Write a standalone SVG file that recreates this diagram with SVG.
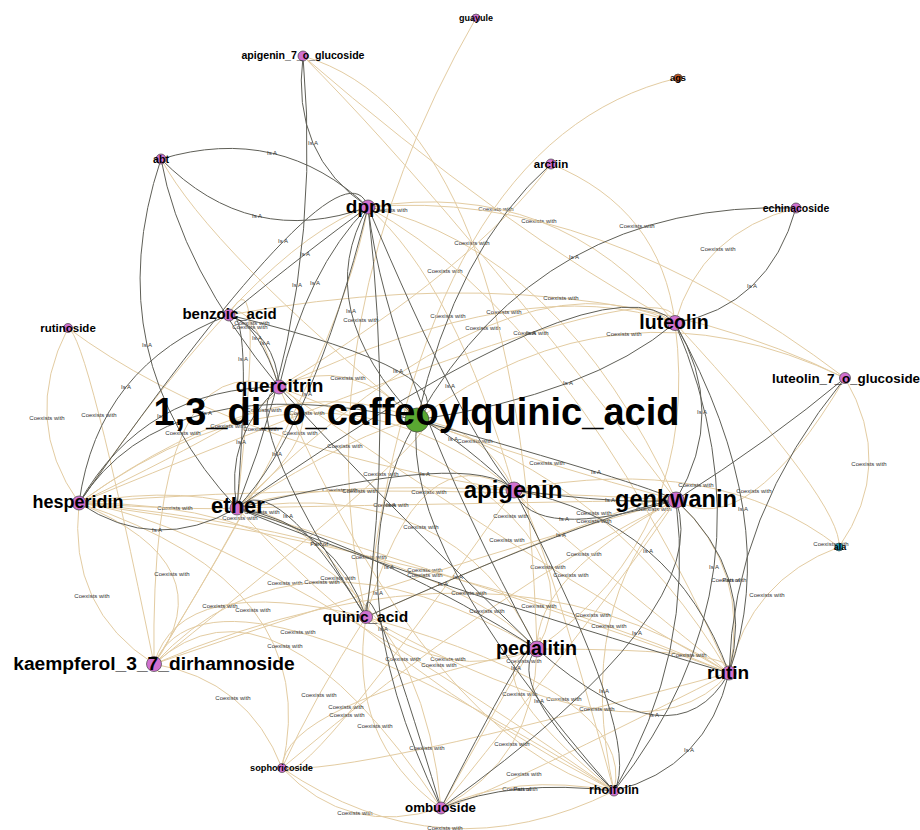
<svg xmlns="http://www.w3.org/2000/svg" width="920" height="830" viewBox="0 0 920 830">
<style>
.c{fill:none;stroke:#e3cca2;stroke-width:1}
.d{fill:none;stroke:#5f5f57;stroke-width:1}
.el{font-family:"Liberation Sans",Arial,sans-serif;font-size:6px;fill:#333;text-anchor:middle;dominant-baseline:central}
.n circle{fill:#d070d0;stroke:#444;stroke-width:0.7}
.n text{font-family:"Liberation Sans",Arial,sans-serif;font-weight:bold;fill:#000;text-anchor:middle}
</style>
<rect width="920" height="830" fill="#fff"/>
<g id="connectors">
<!-- coexists with -->
<g><path class="c" d="M476 18 Q301 322.5 366 617"/><text class="el" x="361" y="320">Coexists with</text></g>
<g><path class="c" d="M303 56 Q454.5 208 676 500"/></g>
<g><path class="c" d="M303 56 Q503 228.5 675 323"/><text class="el" x="496" y="209">Coexists with</text></g>
<g><path class="c" d="M368 207 Q556.5 177 675 323"/><text class="el" x="539" y="221">Coexists with</text></g>
<g><path class="c" d="M551 164 Q661 208.5 675 323"/><text class="el" x="637" y="226">Coexists with</text></g>
<g><path class="c" d="M796 208 Q700.5 232.5 675 323"/><text class="el" x="718" y="249">Coexists with</text></g>
<g><path class="c" d="M229 315 Q585 249.5 845 378"/><text class="el" x="561" y="298">Coexists with</text></g>
<g><path class="c" d="M279 387 Q531 269 675 323"/><text class="el" x="504" y="312">Coexists with</text></g>
<g><path class="c" d="M237 508 Q510 240.5 675 323"/><text class="el" x="483" y="328">Coexists with</text></g>
<g><path class="c" d="M79 503 Q685 253 675 323"/><text class="el" x="531" y="333">Coexists with</text></g>
<g><path class="c" d="M417 420 Q617 269 845 378"/><text class="el" x="624" y="334">Coexists with</text></g>
<g><path class="c" d="M368 207 Q455 283.5 514 490"/><text class="el" x="448" y="316">Coexists with</text></g>
<g><path class="c" d="M551 164 Q475 266.5 279 387"/><text class="el" x="445" y="271">Coexists with</text></g>
<g><path class="c" d="M279 387 Q348 352.5 417 420"/><text class="el" x="348" y="378">Coexists with</text></g>
<g><path class="c" d="M229 315 Q250 295 279 387"/><text class="el" x="252" y="323">Coexists with</text></g>
<g><path class="c" d="M229 315 Q267 242.5 237 508"/><text class="el" x="250" y="327">Coexists with</text></g>
<g><path class="c" d="M68 328 Q20.5 420.5 79 503"/><text class="el" x="47" y="418">Coexists with</text></g>
<g><path class="c" d="M68 328 Q87 334 154 664"/><text class="el" x="99" y="415">Coexists with</text></g>
<g><path class="c" d="M79 503 Q280 358.5 417 420"/><text class="el" x="264" y="410">Coexists with</text></g>
<g><path class="c" d="M79 503 Q317.5 329.5 514 490"/><text class="el" x="307" y="413">Coexists with</text></g>
<g><path class="c" d="M79 503 Q277 407 279 387"/><text class="el" x="228" y="426">Coexists with</text></g>
<g><path class="c" d="M68 328 Q231 449 514 490"/><text class="el" x="261" y="429">Coexists with</text></g>
<g><path class="c" d="M154 664 Q149.5 340.5 279 387"/><text class="el" x="183" y="433">Coexists with</text></g>
<g><path class="c" d="M237 508 Q342 418.5 279 387"/><text class="el" x="300" y="433">Coexists with</text></g>
<g><path class="c" d="M237 508 Q363 428 417 420"/><text class="el" x="345" y="446">Coexists with</text></g>
<g><path class="c" d="M154 664 Q476.5 406 417 420"/><text class="el" x="381" y="474">Coexists with</text></g>
<g><path class="c" d="M237 508 Q304.5 481 514 490"/><text class="el" x="340" y="490">Coexists with</text></g>
<g><path class="c" d="M79 503 Q342.5 480.5 676 500"/><text class="el" x="360" y="491">Coexists with</text></g>
<g><path class="c" d="M366 617 Q418 430.5 514 490"/><text class="el" x="429" y="492">Coexists with</text></g>
<g><path class="c" d="M237 508 Q455 475.5 537 649"/><text class="el" x="421" y="527">Coexists with</text></g>
<g><path class="c" d="M79 503 Q192 510.5 237 508"/><text class="el" x="175" y="508">Coexists with</text></g>
<g><path class="c" d="M237 508 Q325.5 506 676 500"/><text class="el" x="391" y="505">Coexists with</text></g>
<g><path class="c" d="M79 503 Q301.5 464 366 617"/><text class="el" x="262" y="512">Coexists with</text></g>
<g><path class="c" d="M154 664 Q284.5 450 237 508"/><text class="el" x="240" y="518">Coexists with</text></g>
<g><path class="c" d="M79 503 Q430 538 537 649"/><text class="el" x="369" y="557">Coexists with</text></g>
<g><path class="c" d="M79 503 Q446 552 729 673"/><text class="el" x="425" y="570">Coexists with</text></g>
<g><path class="c" d="M154 664 Q435 568 676 500"/><text class="el" x="425" y="575">Coexists with</text></g>
<g><path class="c" d="M154 664 Q496.5 517.5 729 673"/><text class="el" x="469" y="593">Coexists with</text></g>
<g><path class="c" d="M282 768 Q495 588 676 500"/><text class="el" x="487" y="611">Coexists with</text></g>
<g><path class="c" d="M79 503 Q223.5 519 614 791"/><text class="el" x="285" y="583">Coexists with</text></g>
<g><path class="c" d="M154 664 Q298.5 507.5 537 649"/><text class="el" x="322" y="582">Coexists with</text></g>
<g><path class="c" d="M79 503 Q416 500.5 441 808"/><text class="el" x="338" y="578">Coexists with</text></g>
<g><path class="c" d="M79 503 Q227.5 564.5 154 664"/><text class="el" x="172" y="574">Coexists with</text></g>
<g><path class="c" d="M79 503 Q67.5 608.5 154 664"/><text class="el" x="92" y="596">Coexists with</text></g>
<g><path class="c" d="M154 664 Q180 571.5 366 617"/><text class="el" x="220" y="606">Coexists with</text></g>
<g><path class="c" d="M79 503 Q325.5 584.5 282 768"/><text class="el" x="253" y="610">Coexists with</text></g>
<g><path class="c" d="M154 664 Q212 536.5 614 791"/><text class="el" x="298" y="632">Coexists with</text></g>
<g><path class="c" d="M154 664 Q272.5 556 441 808"/><text class="el" x="285" y="646">Coexists with</text></g>
<g><path class="c" d="M237 508 Q380.5 668.5 614 791"/><text class="el" x="403" y="659">Coexists with</text></g>
<g><path class="c" d="M366 617 Q444.5 685 537 649"/><text class="el" x="448" y="659">Coexists with</text></g>
<g><path class="c" d="M279 387 Q431.5 741 614 791"/><text class="el" x="439" y="665">Coexists with</text></g>
<g><path class="c" d="M154 664 Q248 680 282 768"/><text class="el" x="233" y="698">Coexists with</text></g>
<g><path class="c" d="M366 617 Q314 697.5 282 768"/><text class="el" x="319" y="695">Coexists with</text></g>
<g><path class="c" d="M282 768 Q282.5 705.5 537 649"/><text class="el" x="346" y="707">Coexists with</text></g>
<g><path class="c" d="M282 768 Q296 801 514 490"/><text class="el" x="347" y="715">Coexists with</text></g>
<g><path class="c" d="M366 617 Q346.5 739.5 441 808"/><text class="el" x="375" y="726">Coexists with</text></g>
<g><path class="c" d="M282 768 Q348.5 775.5 729 673"/><text class="el" x="427" y="748">Coexists with</text></g>
<g><path class="c" d="M282 768 Q348.5 838 441 808"/><text class="el" x="355" y="813">Coexists with</text></g>
<g><path class="c" d="M282 768 Q442 876.5 614 791"/><text class="el" x="445" y="828">Coexists with</text></g>
<g><path class="c" d="M845 378 Q896 465.5 839 547"/><text class="el" x="869" y="464">Coexists with</text></g>
<g><path class="c" d="M839 547 Q750 580 729 673"/><text class="el" x="767" y="595">Coexists with</text></g>
<g><path class="c" d="M676 500 Q747.5 543 845 378"/><text class="el" x="754" y="491">Coexists with</text></g>
<g><path class="c" d="M514 490 Q715.5 451.5 839 547"/><text class="el" x="696" y="485">Coexists with</text></g>
<g><path class="c" d="M675 323 Q702 532 537 649"/><text class="el" x="654" y="509">Coexists with</text></g>
<g><path class="c" d="M417 420 Q615 479.5 729 673"/><text class="el" x="594" y="513">Coexists with</text></g>
<g><path class="c" d="M366 617 Q667 483.5 676 500"/><text class="el" x="594" y="521">Coexists with</text></g>
<g><path class="c" d="M279 387 Q614 514 537 649"/><text class="el" x="511" y="516">Coexists with</text></g>
<g><path class="c" d="M279 387 Q510 550 729 673"/><text class="el" x="507" y="540">Coexists with</text></g>
<g><path class="c" d="M514 490 Q546.5 526.5 729 673"/><text class="el" x="584" y="554">Coexists with</text></g>
<g><path class="c" d="M514 490 Q532 493.5 614 791"/><text class="el" x="548" y="567">Coexists with</text></g>
<g><path class="c" d="M676 500 Q535.5 575.5 537 649"/><text class="el" x="571" y="575">Coexists with</text></g>
<g><path class="c" d="M237 508 Q595 621.5 729 673"/><text class="el" x="539" y="606">Coexists with</text></g>
<g><path class="c" d="M676 500 Q627.5 576 441 808"/><text class="el" x="593" y="615">Coexists with</text></g>
<g><path class="c" d="M676 500 Q573 606.5 614 791"/><text class="el" x="609" y="626">Coexists with</text></g>
<g><path class="c" d="M537 649 Q559 593.5 441 808"/><text class="el" x="524" y="661">Coexists with</text></g>
<g><path class="c" d="M537 649 Q464.5 668 614 791"/><text class="el" x="520" y="694">Coexists with</text></g>
<g><path class="c" d="M366 617 Q638 694 614 791"/><text class="el" x="564" y="699">Coexists with</text></g>
<g><path class="c" d="M366 617 Q646.5 773 729 673"/><text class="el" x="597" y="709">Coexists with</text></g>
<g><path class="c" d="M441 808 Q463 807.5 729 673"/><text class="el" x="524" y="774">Coexists with</text></g>
<g><path class="c" d="M441 808 Q535 759.5 537 649"/><text class="el" x="512" y="744">Coexists with</text></g>
<g><path class="c" d="M441 808 Q512.5 772.5 614 791"/><text class="el" x="520" y="789">Coexists with</text></g>
<g><path class="c" d="M676 500 Q751.5 569.5 729 673"/><text class="el" x="729" y="580">Coexists with</text></g>
<g><path class="c" d="M537 649 Q745 649 729 673"/><text class="el" x="689" y="655">Coexists with</text></g>
<g><path class="c" d="M417 420 Q484.5 427 514 490"/><text class="el" x="475" y="441">Coexists with</text></g>
<g><path class="c" d="M417 420 Q547.5 466 676 500"/><text class="el" x="547" y="463">Coexists with</text></g>
<g><path class="c" d="M675 323 Q843 505 839 547"/><text class="el" x="831" y="544">Coexists with</text></g>
<g><path class="c" d="M368 207 Q560 250 676 500"/><text class="el" x="390" y="210">Coexists with</text></g>
<g><path class="c" d="M678 78 Q422 138.5 366 617"/><text class="el" x="472" y="243">Coexists with</text></g>
<g><path class="c" d="M161 159 Q211 250.5 417 420"/></g>
<g><path class="c" d="M368 207 Q571.5 320 729 673"/></g>
<g><path class="c" d="M368 207 Q339 364.5 154 664"/></g>
<g><path class="c" d="M368 207 Q256.5 245 79 503"/></g>
<g><path class="c" d="M368 207 Q593.5 187.5 845 378"/></g>
<g><path class="c" d="M303 56 Q520 120 537 649"/></g>
<!-- is a -->
<g><path class="d" d="M161 159 Q280 123.5 368 207"/><text class="el" x="272" y="153">Is A</text></g>
<g><path class="d" d="M161 159 Q250 249.5 368 207"/><text class="el" x="257" y="216">Is A</text></g>
<g><path class="d" d="M303 56 Q290.5 155 368 207"/><text class="el" x="313" y="143">Is A</text></g>
<g><path class="d" d="M368 207 Q343 128 79 503"/><text class="el" x="283" y="241">Is A</text></g>
<g><path class="d" d="M368 207 Q311.5 247.5 229 315"/><text class="el" x="305" y="254">Is A</text></g>
<g><path class="d" d="M303 56 Q324 289 237 508"/><text class="el" x="297" y="285">Is A</text></g>
<g><path class="d" d="M368 207 Q306.5 269 279 387"/><text class="el" x="315" y="283">Is A</text></g>
<g><path class="d" d="M368 207 Q309.5 308.5 417 420"/><text class="el" x="351" y="311">Is A</text></g>
<g><path class="d" d="M229 315 Q260 325 279 387"/><text class="el" x="257" y="338">Is A</text></g>
<g><path class="d" d="M229 315 Q276 335 279 387"/><text class="el" x="265" y="343">Is A</text></g>
<g><path class="d" d="M229 315 Q253 306.5 237 508"/><text class="el" x="243" y="359">Is A</text></g>
<g><path class="d" d="M161 159 Q95 356.5 237 508"/><text class="el" x="147" y="345">Is A</text></g>
<g><path class="d" d="M79 503 Q98 365 229 315"/><text class="el" x="126" y="387">Is A</text></g>
<g><path class="d" d="M79 503 Q145 387 279 387"/><text class="el" x="162" y="416">Is A</text></g>
<g><path class="d" d="M79 503 Q166 364.5 417 420"/><text class="el" x="207" y="413">Is A</text></g>
<g><path class="d" d="M237 508 Q224 436.5 279 387"/><text class="el" x="241" y="442">Is A</text></g>
<g><path class="d" d="M279 387 Q231.5 406 366 617"/><text class="el" x="277" y="454">Is A</text></g>
<g><path class="d" d="M368 207 Q311.5 430.5 237 508"/><text class="el" x="307" y="394">Is A</text></g>
<g><path class="d" d="M229 315 Q473 374.5 417 420"/><text class="el" x="398" y="371">Is A</text></g>
<g><path class="d" d="M368 207 Q459 423.5 514 490"/><text class="el" x="450" y="386">Is A</text></g>
<g><path class="d" d="M417 420 Q590 394.5 675 323"/><text class="el" x="568" y="383">Is A</text></g>
<g><path class="d" d="M796 208 Q541.5 200 417 420"/><text class="el" x="574" y="257">Is A</text></g>
<g><path class="d" d="M796 208 Q768.5 306.5 675 323"/><text class="el" x="752" y="286">Is A</text></g>
<g><path class="d" d="M675 323 Q728.5 412.5 676 500"/><text class="el" x="702" y="412">Is A</text></g>
<g><path class="d" d="M417 420 Q440.5 423 514 490"/><text class="el" x="453" y="439">Is A</text></g>
<g><path class="d" d="M237 508 Q474.5 449 514 490"/><text class="el" x="425" y="474">Is A</text></g>
<g><path class="d" d="M417 420 Q645.5 484 676 500"/><text class="el" x="596" y="472">Is A</text></g>
<g><path class="d" d="M514 490 Q625 505 676 500"/><text class="el" x="610" y="500">Is A</text></g>
<g><path class="d" d="M514 490 Q533 543 676 500"/><text class="el" x="564" y="519">Is A</text></g>
<g><path class="d" d="M366 617 Q601 511.5 676 500"/><text class="el" x="561" y="535">Is A</text></g>
<g><path class="d" d="M675 323 Q784 520 729 673"/><text class="el" x="743" y="509">Is A</text></g>
<g><path class="d" d="M675 323 Q783.5 577 614 791"/><text class="el" x="714" y="567">Is A</text></g>
<g><path class="d" d="M237 508 Q274.5 469.5 366 617"/><text class="el" x="288" y="516">Is A</text></g>
<g><path class="d" d="M279 387 Q374 492 537 649"/><text class="el" x="391" y="505">Is A</text></g>
<g><path class="d" d="M79 503 Q156 554.5 237 508"/><text class="el" x="157" y="530">Is A</text></g>
<g><path class="d" d="M237 508 Q391 555.5 537 649"/><text class="el" x="389" y="567">Is A</text></g>
<g><path class="d" d="M237 508 Q403 577.5 729 673"/><text class="el" x="443" y="584">Is A</text></g>
<g><path class="d" d="M417 420 Q400.5 548.5 614 791"/><text class="el" x="458" y="577">Is A</text></g>
<g><path class="d" d="M417 420 Q327 572 441 808"/><text class="el" x="378" y="593">Is A</text></g>
<g><path class="d" d="M366 617 Q362.5 545.5 441 808"/><text class="el" x="383" y="629">Is A</text></g>
<g><path class="d" d="M537 649 Q543 607.5 441 808"/><text class="el" x="516" y="668">Is A</text></g>
<g><path class="d" d="M537 649 Q502.5 682 614 791"/><text class="el" x="539" y="701">Is A</text></g>
<g><path class="d" d="M514 490 Q644 741.5 614 791"/><text class="el" x="604" y="691">Is A</text></g>
<g><path class="d" d="M537 649 Q675 769 729 673"/><text class="el" x="654" y="715">Is A</text></g>
<g><path class="d" d="M729 673 Q706.5 768 614 791"/><text class="el" x="689" y="750">Is A</text></g>
<g><path class="d" d="M514 490 Q674.5 520.5 729 673"/><text class="el" x="648" y="551">Is A</text></g>
<g><path class="d" d="M676 500 Q715.5 612 441 808"/><text class="el" x="637" y="633">Is A</text></g>
<g><path class="d" d="M237 508 Q606 250.5 675 323"/><text class="el" x="531" y="333">Is A</text></g>
<g><path class="d" d="M845 378 Q769.5 441 676 500"/></g>
<g><path class="d" d="M845 378 Q733 514.5 729 673"/></g>
<g><path class="d" d="M161 159 Q180 267 279 387"/></g>
<g><path class="d" d="M551 164 Q456 248 417 420"/></g>
<g><path class="d" d="M676 500 Q695 654.5 614 791"/></g>
<g><path class="d" d="M368 207 Q393 428 366 617"/></g>
<g><path class="d" d="M368 207 Q387.5 372 537 649"/></g>
<!-- part of -->
<g><path class="d" d="M237 508 Q336.5 525.5 366 617"/><text class="el" x="319" y="544">Part of</text></g>
<g><path class="d" d="M676 500 Q755.5 573.5 729 673"/><text class="el" x="731" y="580">Part of</text></g>
<g><path class="d" d="M441 808 Q512.5 778.5 614 791"/><text class="el" x="522" y="789">Part of</text></g>
</g>
<g id="nodes">
<g id="n-guayule" class="n"><circle cx="476" cy="18" r="4"/><text x="476" y="21" font-size="9">guayule</text></g>
<g id="n-ags" class="n"><circle cx="678" cy="78" r="4" style="fill:#c8561e"/><text x="678" y="81" font-size="9.3">ags</text></g>
<g id="n-apigenin_7_o_glucoside" class="n"><circle cx="303" cy="56" r="5"/><text x="303" y="59" font-size="10.6">apigenin_7_o_glucoside</text></g>
<g id="n-abt" class="n"><circle cx="161" cy="159" r="5"/><text x="161" y="163" font-size="10.7">abt</text></g>
<g id="n-arctiin" class="n"><circle cx="551" cy="164" r="5"/><text x="551" y="168" font-size="11.5">arctiin</text></g>
<g id="n-dpph" class="n"><circle cx="368" cy="207" r="7"/><text x="369" y="213" font-size="19">dpph</text></g>
<g id="n-echinacoside" class="n"><circle cx="796" cy="208" r="5"/><text x="796" y="212" font-size="10.5">echinacoside</text></g>
<g id="n-rutinoside" class="n"><circle cx="68" cy="328" r="4.5"/><text x="68" y="332" font-size="11.5">rutinoside</text></g>
<g id="n-benzoic_acid" class="n"><circle cx="229" cy="315" r="6"/><text x="229.5" y="319" font-size="15">benzoic_acid</text></g>
<g id="n-luteolin" class="n"><circle cx="675" cy="323" r="7.5"/><text x="674" y="329" font-size="19.5">luteolin</text></g>
<g id="n-quercitrin" class="n"><circle cx="279" cy="387" r="7"/><text x="279.5" y="392" font-size="19">quercitrin</text></g>
<g id="n-luteolin_7_o_glucoside" class="n"><circle cx="845" cy="378" r="5.5"/><text x="846" y="383" font-size="13.4">luteolin_7_o_glucoside</text></g>
<g id="n-caffeoylquinic" class="n"><circle cx="417" cy="420" r="12" style="fill:#5aa832"/><text x="416.5" y="425" font-size="38">1,3_di_o_caffeoylquinic_acid</text></g>
<g id="n-hesperidin" class="n"><circle cx="79" cy="503" r="7"/><text x="78" y="508" font-size="18">hesperidin</text></g>
<g id="n-ether" class="n"><circle cx="237" cy="508" r="7"/><text x="238" y="513" font-size="22">ether</text></g>
<g id="n-apigenin" class="n"><circle cx="514" cy="490" r="8"/><text x="513" y="498" font-size="24">apigenin</text></g>
<g id="n-genkwanin" class="n"><circle cx="676" cy="500" r="8"/><text x="676" y="507" font-size="23.6">genkwanin</text></g>
<g id="n-ala" class="n"><circle cx="839" cy="547" r="4" style="fill:#1a9ab5"/><text x="840" y="550" font-size="9">ala</text></g>
<g id="n-quinic_acid" class="n"><circle cx="366" cy="617" r="6.5"/><text x="365.5" y="622" font-size="15.5">quinic_acid</text></g>
<g id="n-kaempferol_3_7_dirhamnoside" class="n"><circle cx="154" cy="664" r="7.5"/><text x="154" y="670" font-size="19.2">kaempferol_3_7_dirhamnoside</text></g>
<g id="n-pedalitin" class="n"><circle cx="537" cy="649" r="8"/><text x="536.5" y="655" font-size="19.7">pedalitin</text></g>
<g id="n-rutin" class="n"><circle cx="729" cy="673" r="7"/><text x="728" y="679" font-size="19">rutin</text></g>
<g id="n-sophoricoside" class="n"><circle cx="282" cy="768" r="4.5"/><text x="281.5" y="771" font-size="9.2">sophoricoside</text></g>
<g id="n-ombuoside" class="n"><circle cx="441" cy="808" r="6"/><text x="440.5" y="812" font-size="13.3">ombuoside</text></g>
<g id="n-rhoifolin" class="n"><circle cx="614" cy="791" r="5"/><text x="614" y="794" font-size="12.5">rhoifolin</text></g>
</g>
</svg>
